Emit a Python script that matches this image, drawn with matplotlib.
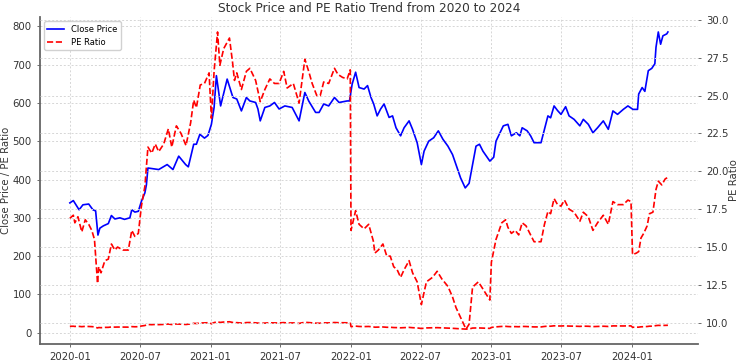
#!/usr/bin/env python3
"""Stock price and PE ratio trend, 2020 to 2024."""
import pandas as pd
import matplotlib
matplotlib.use('Agg')
import matplotlib.pyplot as plt

#-------------------------------------------------------------------------#
# Data                                     #
#-------------------------------------------------------------------------#
close_dates = [
    '2020-01-01', '2020-01-10', '2020-01-25', '2020-02-04', '2020-02-19',
    '2020-03-01', '2020-03-08', '2020-03-14', '2020-03-19', '2020-03-28',
    '2020-04-10', '2020-04-18', '2020-04-27', '2020-05-10', '2020-05-22',
    '2020-06-05', '2020-06-10', '2020-06-18', '2020-06-27', '2020-07-05',
    '2020-07-14', '2020-07-18', '2020-07-22', '2020-08-19', '2020-09-10',
    '2020-09-25', '2020-10-10', '2020-10-28', '2020-11-04', '2020-11-18',
    '2020-11-25', '2020-12-04', '2020-12-16', '2020-12-25', '2021-01-03',
    '2021-01-10', '2021-01-16', '2021-01-27', '2021-02-13', '2021-02-28',
    '2021-03-10', '2021-03-22', '2021-04-04', '2021-04-13', '2021-04-28',
    '2021-05-04', '2021-05-10', '2021-05-22', '2021-06-04', '2021-06-16',
    '2021-06-28', '2021-07-13', '2021-08-01', '2021-08-19', '2021-09-03',
    '2021-09-13', '2021-10-01', '2021-10-10', '2021-10-22', '2021-11-04',
    '2021-11-19', '2021-12-01', '2021-12-22', '2021-12-28', '2022-01-04',
    '2022-01-13', '2022-01-22', '2022-02-04', '2022-02-13', '2022-02-22',
    '2022-03-01', '2022-03-10', '2022-03-19', '2022-03-28', '2022-04-10',
    '2022-04-19', '2022-04-28', '2022-05-10', '2022-05-19', '2022-06-01',
    '2022-06-10', '2022-06-22', '2022-07-03', '2022-07-10', '2022-07-22',
    '2022-08-04', '2022-08-16', '2022-08-28', '2022-09-10', '2022-09-22',
    '2022-10-04', '2022-10-13', '2022-10-25', '2022-11-04', '2022-11-13',
    '2022-11-22', '2022-12-01', '2022-12-10', '2022-12-28', '2023-01-07',
    '2023-01-13', '2023-02-01', '2023-02-13', '2023-02-22', '2023-03-07',
    '2023-03-16', '2023-03-22', '2023-04-04', '2023-04-13', '2023-04-22',
    '2023-05-10', '2023-05-19', '2023-05-28', '2023-06-04', '2023-06-13',
    '2023-06-22', '2023-07-01', '2023-07-13', '2023-07-22', '2023-08-04',
    '2023-08-19', '2023-08-28', '2023-09-10', '2023-09-22', '2023-10-04',
    '2023-10-19', '2023-11-01', '2023-11-13', '2023-11-25', '2023-12-10',
    '2023-12-22', '2024-01-04', '2024-01-16', '2024-01-19', '2024-01-28',
    '2024-02-04', '2024-02-13', '2024-02-22', '2024-03-01', '2024-03-04',
    '2024-03-10', '2024-03-16', '2024-03-22', '2024-04-01', '2024-04-04']
close_price = [
    339, 345, 321, 334, 336,
    321, 318, 255, 273, 279,
    285, 306, 297, 300, 296,
    300, 321, 315, 317, 343,
    365, 386, 430, 426, 439,
    426, 461, 439, 433, 492,
    492, 518, 508, 515, 544,
    588, 671, 592, 662, 614,
    610, 579, 614, 605, 601,
    584, 553, 588, 592, 601,
    584, 592, 588, 553, 627,
    605, 575, 575, 597, 592,
    614, 601, 605, 605, 649,
    680, 640, 636, 645, 614,
    597, 566, 584, 597, 562,
    566, 535, 514, 535, 553,
    531, 496, 439, 474, 500,
    509, 527, 505, 487, 465,
    430, 404, 378, 390, 439,
    487, 492, 474, 448, 458,
    500, 540, 544, 514, 522,
    514, 535, 527, 514, 496,
    496, 531, 566, 561, 592,
    580, 570, 590, 566, 557,
    540, 557, 544, 522, 535,
    553, 531, 579, 570, 583,
    592, 583, 583, 623, 640,
    630, 684, 690, 702, 745,
    785, 753, 775, 780, 785]

pe_dates = [
    '2020-01-01', '2020-01-10', '2020-01-14', '2020-01-22', '2020-02-01',
    '2020-02-10', '2020-02-19', '2020-02-27', '2020-03-05', '2020-03-13',
    '2020-03-16', '2020-03-22', '2020-04-01', '2020-04-10', '2020-04-18',
    '2020-04-27', '2020-05-04', '2020-05-18', '2020-06-01', '2020-06-10',
    '2020-06-18', '2020-06-27', '2020-07-05', '2020-07-14', '2020-07-22',
    '2020-08-01', '2020-08-10', '2020-08-19', '2020-09-01', '2020-09-13',
    '2020-09-22', '2020-10-04', '2020-10-16', '2020-10-29', '2020-11-10',
    '2020-11-18', '2020-11-25', '2020-12-05', '2020-12-16', '2020-12-28',
    '2021-01-03', '2021-01-10', '2021-01-19', '2021-01-25', '2021-02-04',
    '2021-02-19', '2021-02-27', '2021-03-04', '2021-03-10', '2021-03-22',
    '2021-04-04', '2021-04-13', '2021-04-28', '2021-05-10', '2021-05-22',
    '2021-06-04', '2021-06-16', '2021-06-28', '2021-07-10', '2021-07-19',
    '2021-08-04', '2021-08-19', '2021-09-03', '2021-09-13', '2021-09-22',
    '2021-10-04', '2021-10-13', '2021-10-22', '2021-11-04', '2021-11-19',
    '2021-11-28', '2021-12-10', '2021-12-22', '2021-12-30', '2022-01-01',
    '2022-01-13', '2022-01-22', '2022-02-04', '2022-02-16', '2022-02-28',
    '2022-03-04', '2022-03-13', '2022-03-25', '2022-04-04', '2022-04-13',
    '2022-04-22', '2022-05-01', '2022-05-10', '2022-05-19', '2022-06-01',
    '2022-06-10', '2022-06-22', '2022-07-03', '2022-07-10', '2022-07-16',
    '2022-08-01', '2022-08-13', '2022-08-25', '2022-09-10', '2022-09-22',
    '2022-10-01', '2022-10-13', '2022-10-27', '2022-11-04', '2022-11-13',
    '2022-11-28', '2022-12-07', '2022-12-28', '2023-01-01', '2023-01-13',
    '2023-01-28', '2023-02-07', '2023-02-13', '2023-02-22', '2023-03-04',
    '2023-03-13', '2023-03-22', '2023-04-01', '2023-04-13', '2023-04-22',
    '2023-05-10', '2023-05-19', '2023-05-28', '2023-06-04', '2023-06-13',
    '2023-06-22', '2023-07-01', '2023-07-10', '2023-07-22', '2023-08-04',
    '2023-08-19', '2023-08-28', '2023-09-10', '2023-09-22', '2023-10-04',
    '2023-10-19', '2023-11-01', '2023-11-13', '2023-11-25', '2023-12-10',
    '2023-12-22', '2023-12-30', '2024-01-03', '2024-01-13', '2024-01-19',
    '2024-01-25', '2024-02-01', '2024-02-10', '2024-02-16', '2024-02-25',
    '2024-03-04', '2024-03-10', '2024-03-19', '2024-03-28', '2024-04-04']
pe_ratio = [
    16.9, 17.1, 16.6, 17.0, 16.0,
    16.8, 16.5, 16.1, 15.5, 12.6,
    13.7, 13.3, 14.1, 14.2, 15.2,
    14.8, 15.0, 14.8, 14.8, 16.1,
    15.7, 15.9, 17.7, 19.0, 21.6,
    21.2, 21.8, 21.3, 21.8, 22.8,
    21.6, 23.0, 22.5, 21.7, 23.2,
    24.7, 24.2, 25.7, 25.8, 26.5,
    23.5, 26.6, 29.2, 27.0, 28.1,
    28.8, 27.2, 26.0, 26.5, 25.4,
    26.6, 26.8, 26.0, 24.6, 25.4,
    26.1, 25.8, 25.8, 26.6, 25.5,
    25.8, 24.5, 27.4, 26.6, 25.8,
    25.0, 25.0, 25.9, 25.8, 26.8,
    26.4, 26.2, 26.1, 26.7, 16.1,
    17.4, 16.5, 16.2, 16.5, 15.4,
    14.6, 14.8, 15.2, 14.4, 14.4,
    13.7, 13.5, 13.0, 13.5, 14.1,
    13.3, 12.7, 11.2, 12.0, 12.7,
    13.0, 13.4, 12.9, 12.4, 11.7,
    11.0, 10.35, 9.58, 9.9, 12.35,
    12.7, 12.35, 11.5, 14.0, 15.5,
    16.6, 16.8, 16.3, 15.9, 16.1,
    15.8, 16.6, 16.4, 15.8, 15.35,
    15.35, 16.5, 17.35, 17.2, 18.2,
    17.8, 17.7, 18.1, 17.5, 17.3,
    16.7, 17.3, 17.0, 16.1, 16.6,
    17.1, 16.5, 18.0, 17.8, 17.8,
    18.1, 18.0, 14.5, 14.6, 14.7,
    15.6, 15.9, 16.4, 17.2, 17.3,
    18.8, 19.35, 19.1, 19.5, 19.6]

#-------------------------------------------------------------------------#
# Plot                                                                    #
#-------------------------------------------------------------------------#
close_t = pd.to_datetime(close_dates)
pe_t    = pd.to_datetime(pe_dates)

text_col = '#333333'
grid_kw  = dict(color='#d6d6d6', linestyle=(0, (2, 2)), linewidth=0.7)

fig = plt.figure(figsize=(7.40, 3.64), dpi=100)
ax1 = fig.add_axes([0.054, 0.055, 0.889, 0.898])
ax2 = ax1.twinx()

ax1.plot(close_t, close_price, color='blue', lw=1.2, label='Close Price')
ax1.plot(pe_t, pe_ratio, color='red', ls='--', lw=1.2, label='PE Ratio')
ax2.plot(pe_t, pe_ratio, color='red', ls='--', lw=1.2)

ax1.grid(True, **grid_kw)
ax2.grid(True, **grid_kw)

ax1.set_title('Stock Price and PE Ratio Trend from 2020 to 2024',
              fontsize=8.7, color=text_col, pad=4)
ax1.set_xlabel('Date', fontsize=7.25, color=text_col, labelpad=3)
ax1.set_ylabel('Close Price / PE Ratio', fontsize=7.25, color=text_col,
               labelpad=1)
ax2.set_ylabel('PE Ratio', fontsize=7.25, color=text_col, labelpad=0)

for ax in (ax1, ax2):
    ax.tick_params(labelsize=7.25, colors='#555555', labelcolor=text_col,
                   length=2.5, width=0.6)
    for side in ('top', 'right'):
        ax.spines[side].set_visible(False)
    ax.spines['left'].set_visible(ax is ax1)
    ax.spines['bottom'].set_visible(ax is ax1)
for side in ('left', 'bottom'):
    ax1.spines[side].set_color('#666666')
    ax1.spines[side].set_linewidth(1.3)

ax1.legend(loc='upper left', fontsize=6.0, framealpha=0.9,
           edgecolor='#cccccc', handlelength=2.0)

fig.savefig('out.png', dpi=100)
